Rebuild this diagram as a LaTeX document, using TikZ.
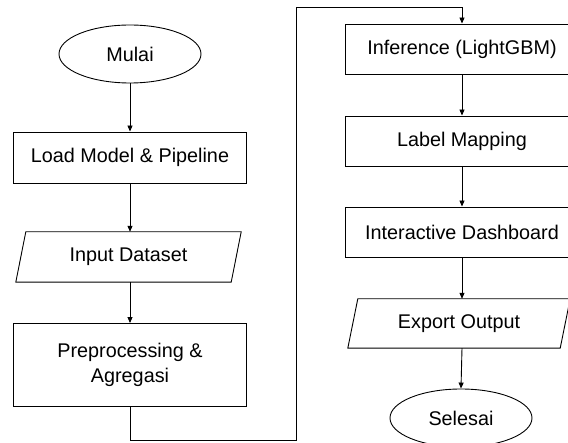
\documentclass[tikz,border=0pt]{standalone}
\usepackage{fontspec}
\setmainfont{Liberation Sans}
\usetikzlibrary{shapes.geometric,arrows.meta}
\begin{document}
\begin{tikzpicture}[x=1pt,y=-1pt,
  every node/.style={font=\fontsize{19.8}{24.5}\selectfont, inner sep=0pt},
  proc/.style={draw, line width=0.9pt, minimum width=233pt, minimum height=50pt, align=center},
  term/.style={draw, ellipse, line width=0.9pt, minimum width=142pt, minimum height=58pt},
  iobox/.style={minimum width=215pt, minimum height=50pt},
  para/.style={line width=0.9pt},
  arr/.style={line width=0.9pt, -{Triangle[length=6pt,width=5pt]}}]
\useasboundingbox (0,0) rectangle (568,443);
\node[term] (mulai) at (130,54) {Mulai};
\node[proc, minimum height=51pt] (load) at (130,157.5) {Load Model \& Pipeline};
\node[iobox] (input) at (128.5,257) {Input Dataset};
\draw[para] ([xshift=5pt]input.north west) -- ([xshift=5pt]input.north east) -- ([xshift=-5pt]input.south east) -- ([xshift=-5pt]input.south west) -- cycle;
\node[proc, minimum height=83pt] (prep) at (130,365) {Preprocessing \&\\Agregasi};
\node[proc] (inf) at (462,49) {Inference (LightGBM)};
\node[proc] (lab) at (462,141) {Label Mapping};
\node[proc] (dash) at (462,232) {Interactive Dashboard};
\node[iobox, minimum width=212pt, minimum height=49pt] (exp) at (459,323.5) {Export Output};
\draw[para] ([xshift=5pt]exp.north west) -- ([xshift=5pt]exp.north east) -- ([xshift=-5pt]exp.south east) -- ([xshift=-5pt]exp.south west) -- cycle;
\node[term] (sel) at (461,418) {Selesai};
\coordinate (bl) at (296,440);
\coordinate (tl) at (296,7);
\draw[arr] (mulai.south) -- (load.north);
\draw[arr] (load.south) -- (load.south |- input.north);
\draw[arr] (load.south |- input.south) -- (prep.north);
\draw[arr] (prep.south) |- (bl) -- (tl) -| (inf.north);
\draw[arr] (inf.south) -- (lab.north);
\draw[arr] (lab.south) -- (dash.north);
\draw[arr] (dash.south) -- (dash.south |- exp.north);
\draw[arr] (dash.south |- exp.south) -- (sel.north);
\end{tikzpicture}
\end{document}
